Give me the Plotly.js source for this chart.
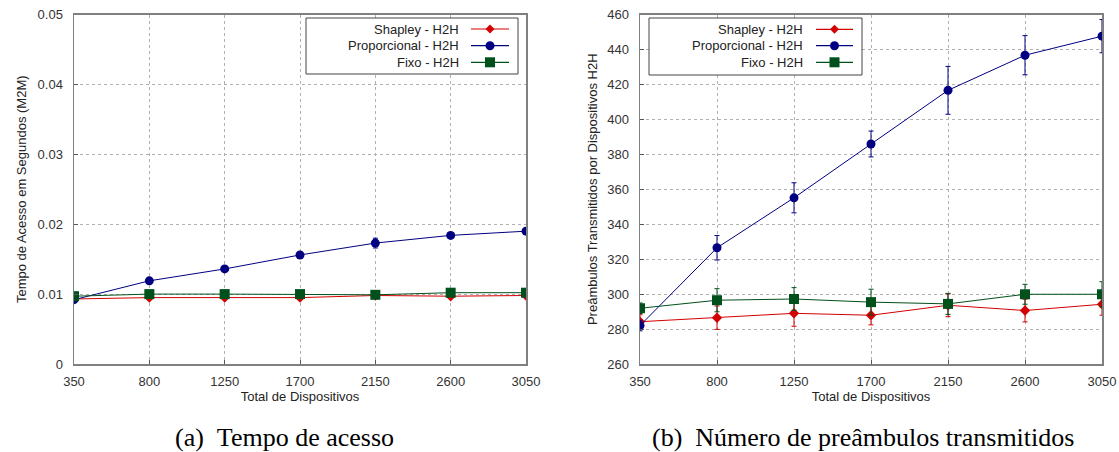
<!DOCTYPE html>
<html>
<head>
<meta charset="utf-8">
<script src="https://cdn.plot.ly/plotly-3.0.1.min.js"></script>
<style>html,body{margin:0;padding:0;background:#fff;}#chart{width:1119px;height:452px;}</style>
</head>
<body>
<div id="chart"></div>
<script>
// ---- data ----
const devices = [350, 800, 1250, 1700, 2150, 2600, 3050];
const seriesNames = ["Shapley - H2H", "Proporcional - H2H", "Fixo - H2H"];

// (a) access time (s)
const timeShapley = [0.0093, 0.0095, 0.0095, 0.0095, 0.0098, 0.0097, 0.0098];
const timeShapleyErr = [0.0002, 0.0002, 0.0002, 0.0002, 0.0002, 0.0002, 0.0002];
const timeProp = [0.0092, 0.0119, 0.0136, 0.0156, 0.0173, 0.0184, 0.0190];
const timePropErr = [0.0002, 0.0002, 0.0002, 0.0003, 0.0007, 0.0004, 0.0003];
const timeFixo = [0.0097, 0.0100, 0.0100, 0.0100, 0.0099, 0.0102, 0.0102];
const timeFixoErr = [0.0002, 0.0002, 0.0002, 0.0002, 0.0002, 0.0002, 0.0002];

// (b) preambles transmitted
const preShapley = [284.2, 286.5, 289.0, 287.9, 293.6, 290.6, 294.2];
const preShapleyErr = [4.0, 6.7, 7.4, 5.5, 6.5, 6.5, 6.3];
const preProp = [282.0, 326.5, 355.1, 385.9, 416.6, 436.7, 447.6];
const prePropErr = [3.0, 7.0, 8.6, 7.4, 13.7, 11.2, 9.5];
const preFixo = [291.9, 296.5, 297.2, 295.4, 294.4, 299.9, 299.9];
const preFixoErr = [3.0, 6.6, 6.5, 7.4, 6.0, 5.7, 7.2];

const xTicks = devices;
const yTicksA = [0, 0.01, 0.02, 0.03, 0.04, 0.05];
const yTickTextA = ["0", "0.01", "0.02", "0.03", "0.04", "0.05"];
const yTicksB = [260, 280, 300, 320, 340, 360, 380, 400, 420, 440, 460];
const captions = ["(a)&nbsp;&nbsp;Tempo de acesso", "(b)&nbsp;&nbsp;Número de preâmbulos transmitidos"];

// ---- styles ----
const colors = ["#d40000", "#000080", "#00501c"];
const symbols = ["diamond", "circle", "square"];
const msizes = [8, 9, 10];

const W = 1119, H = 452;
const px = x => x / W;
const py = y => 1 - y / H;

function mk(x, y, err, i, xa, ya) {
  return {
    x: x, y: y, type: "scatter", mode: "lines+markers",
    name: seriesNames[i], showlegend: false, xaxis: xa, yaxis: ya,
    line: {color: colors[i], width: 1},
    marker: {color: colors[i], symbol: symbols[i], size: msizes[i]},
    error_y: {type: "data", array: err, visible: true, color: colors[i], thickness: 1, width: 2.5}
  };
}

const data = [
  mk(devices, timeShapley, timeShapleyErr, 0, "x", "y"),
  mk(devices, timeProp, timePropErr, 1, "x", "y"),
  mk(devices, timeFixo, timeFixoErr, 2, "x", "y"),
  mk(devices, preShapley, preShapleyErr, 0, "x2", "y2"),
  mk(devices, preProp, prePropErr, 1, "x2", "y2"),
  mk(devices, preFixo, preFixoErr, 2, "x2", "y2")
];

const font = {family: "Liberation Sans, Arial, sans-serif", size: 13, color: "#222"};
const axisCommon = {
  showline: true, mirror: true, linecolor: "#808080", linewidth: 1.5,
  ticks: "inside", ticklen: 4, tickcolor: "#555",
  showgrid: true, gridcolor: "#b0b0b0", griddash: "dot", gridwidth: 1,
  zeroline: false, tickfont: {family: font.family, size: 13, color: "#333"},
  fixedrange: true
};

const yTop = 14.5, yBot = 364;
const capFont = {family: "Liberation Serif, Times New Roman, serif", size: 26, color: "#000"};
const layout = {
  width: W, height: H,
  margin: {l: 0, r: 0, t: 0, b: 0},
  paper_bgcolor: "#fff", plot_bgcolor: "#fff",
  font: font, showlegend: false,
  xaxis: Object.assign({}, axisCommon, {
    domain: [px(74), px(526)], range: [350, 3050], tickvals: xTicks, anchor: "y",
    ticklabelstandoff: 5,
    title: {text: "Total de Dispositivos", font: {size: 13, color: "#222"}, standoff: 2}
  }),
  yaxis: Object.assign({}, axisCommon, {
    domain: [py(yBot), py(yTop)], range: [0, 0.05], tickvals: yTicksA, ticktext: yTickTextA, anchor: "x",
    ticklabelstandoff: 7,
    title: {text: "Tempo de Acesso em Segundos (M2M)", font: {size: 13, color: "#222"}, standoff: 8}
  }),
  xaxis2: Object.assign({}, axisCommon, {
    domain: [px(640), px(1102)], range: [350, 3050], tickvals: xTicks, anchor: "y2",
    ticklabelstandoff: 5,
    title: {text: "Total de Dispositivos", font: {size: 13, color: "#222"}, standoff: 2}
  }),
  yaxis2: Object.assign({}, axisCommon, {
    domain: [py(yBot), py(yTop)], range: [260, 460], tickvals: yTicksB, anchor: "x2",
    ticklabelstandoff: 7,
    title: {text: "Preâmbulos Transmitidos por Dispositivos H2H", font: {size: 13, color: "#222"}, standoff: 6}
  }),
  shapes: [],
  annotations: [
    {text: captions[0], xref: "paper", yref: "paper", x: px(173), y: py(437),
     xanchor: "left", yanchor: "middle", showarrow: false, font: capFont},
    {text: captions[1], xref: "paper", yref: "paper", x: px(650), y: py(437),
     xanchor: "left", yanchor: "middle", showarrow: false, font: capFont}
  ]
};

// custom legends (text on the left, sample on the right, gnuplot style)
function addLegend(box, textRight, lineX0, lineX1, rows) {
  layout.shapes.push({type: "rect", xref: "paper", yref: "paper",
    x0: px(box[0]), x1: px(box[1]), y0: py(box[3]), y1: py(box[2]),
    line: {color: "#444", width: 1}, fillcolor: "#fff", layer: "above"});
  for (let i = 0; i < 3; i++) {
    const yy = rows[i];
    layout.annotations.push({text: seriesNames[i], xref: "paper", yref: "paper",
      x: px(textRight), y: py(yy), xanchor: "right", yanchor: "middle", showarrow: false,
      font: {family: font.family, size: 13, color: "#222"}});
    layout.shapes.push({type: "line", xref: "paper", yref: "paper", layer: "above",
      x0: px(lineX0), x1: px(lineX1), y0: py(yy), y1: py(yy), line: {color: colors[i], width: 1.2}});
    const cx = (lineX0 + lineX1) / 2;
    if (i === 0) {
      const s = 4.5;
      layout.shapes.push({type: "path", xref: "paper", yref: "paper", layer: "above",
        path: `M ${px(cx)} ${py(yy - s)} L ${px(cx + s)} ${py(yy)} L ${px(cx)} ${py(yy + s)} L ${px(cx - s)} ${py(yy)} Z`,
        fillcolor: colors[i], line: {color: colors[i], width: 0}});
    } else if (i === 1) {
      const r = 4.5;
      layout.shapes.push({type: "circle", xref: "paper", yref: "paper", layer: "above",
        x0: px(cx - r), x1: px(cx + r), y0: py(yy + r), y1: py(yy - r),
        fillcolor: colors[i], line: {color: colors[i], width: 0}});
    } else {
      const r = 5;
      layout.shapes.push({type: "rect", xref: "paper", yref: "paper", layer: "above",
        x0: px(cx - r), x1: px(cx + r), y0: py(yy + r), y1: py(yy - r),
        fillcolor: colors[i], line: {color: colors[i], width: 0}});
    }
  }
}
addLegend([306, 518, 18, 74], 461, 471, 509, [29, 45.7, 62.3]);
addLegend([649, 862, 18, 75], 805, 816, 853, [29.3, 45.7, 62.3]);

Plotly.newPlot("chart", data, layout, {displayModeBar: false, staticPlot: true});
</script>
</body>
</html>
